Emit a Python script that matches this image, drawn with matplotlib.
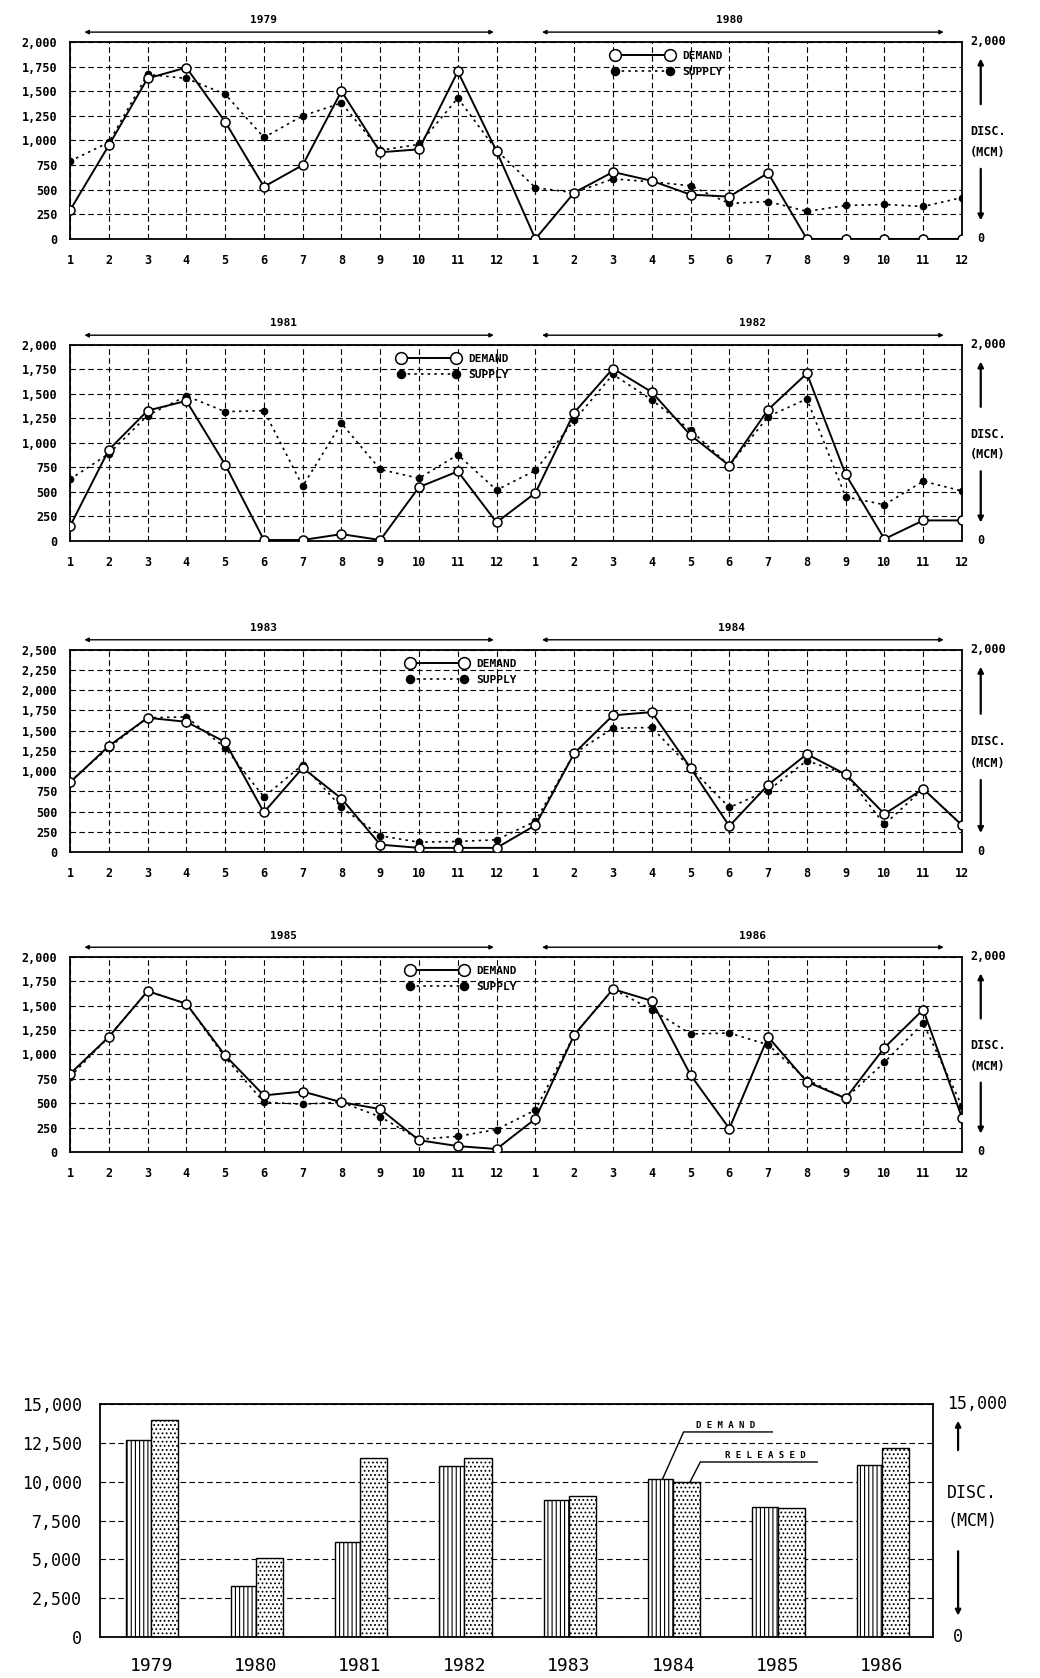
import matplotlib
matplotlib.use("Agg")
import numpy as np
import matplotlib.pyplot as plt

# ---- data (MCM) ----
MONTH_LABELS = ["1", "2", "3", "4", "5", "6", "7", "8", "9", "10", "11", "12"]

years_a = ["1979", "1981", "1983", "1985"]
years_b = ["1980", "1982", "1984", "1986"]

demand_79_80 = [290, 950, 1630, 1740, 1190, 530, 750, 1500, 880, 910, 1700, 890,
                0, 470, 680, 590, 450, 430, 670, 0, 0, 0, 0, 0]
supply_79_80 = [790, 980, 1670, 1630, 1470, 1030, 1250, 1380, 900, 960, 1430, 900,
                520, 470, 610, 580, 540, 360, 380, 280, 340, 350, 330, 420]

demand_81_82 = [150, 930, 1330, 1430, 780, 10, 10, 70, 10, 550, 710, 190,
                490, 1310, 1760, 1520, 1080, 770, 1340, 1710, 680, 20, 210, 210]
supply_81_82 = [630, 890, 1280, 1480, 1320, 1330, 560, 1200, 730, 640, 880, 520,
                720, 1230, 1700, 1440, 1130, 770, 1270, 1450, 450, 370, 610, 510]

demand_83_84 = [860, 1310, 1660, 1610, 1360, 490, 1040, 660, 90, 50, 50, 50,
                330, 1220, 1690, 1730, 1040, 320, 830, 1210, 960, 470, 780, 330]
supply_83_84 = [870, 1290, 1660, 1670, 1290, 680, 1080, 550, 200, 120, 130, 150,
                380, 1220, 1530, 1540, 1040, 550, 760, 1130, 960, 340, 780, 330]

demand_85_86 = [800, 1180, 1650, 1520, 990, 580, 620, 510, 440, 120, 60, 30,
                340, 1200, 1670, 1550, 790, 240, 1180, 720, 550, 1070, 1460, 350]
supply_85_86 = [770, 1180, 1650, 1520, 970, 510, 490, 510, 360, 130, 160, 230,
                430, 1200, 1670, 1460, 1210, 1220, 1100, 740, 550, 920, 1320, 470]

ymax_panels = [2000, 2000, 2500, 2000]

bar_years = ["1979", "1980", "1981", "1982", "1983", "1984", "1985", "1986"]
annual_demand = [12700, 3300, 6100, 11000, 8800, 10200, 8400, 11100]
annual_released = [14000, 5100, 11500, 11500, 9100, 9950, 8300, 12150]

MONO = "DejaVu Sans Mono"
plt.rcParams["hatch.linewidth"] = 0.8

fig = plt.figure(figsize=(10.4, 16.78), dpi=100)
fig.patch.set_facecolor("white")

panel_rects = [
    [0.0673, 0.8576, 0.8577, 0.1174],
    [0.0673, 0.6776, 0.8577, 0.1168],
    [0.0673, 0.4923, 0.8577, 0.1204],
    [0.0673, 0.3135, 0.8577, 0.1162],
]
year_label_x = [(6.0, 18.0), (6.5, 18.6), (6.0, 18.05), (6.5, 18.6)]
legend_x = [0.60, 0.36, 0.37, 0.37]

series = [
    (demand_79_80, supply_79_80),
    (demand_81_82, supply_81_82),
    (demand_83_84, supply_83_84),
    (demand_85_86, supply_85_86),
]

x = np.arange(1, 25)


def side_labels(ax, top_txt, arrow_x, txt_x, up, down, disc_y, mcm_y, fs, weight):
    ax.text(txt_x, 1.0, top_txt, transform=ax.transAxes, ha="left", va="center",
            fontsize=fs, family=MONO, fontweight=weight)
    ax.text(arrow_x, 0.0, "0", transform=ax.transAxes, ha="center", va="center",
            fontsize=fs, family=MONO, fontweight=weight)
    ax.text(txt_x, disc_y, "DISC.", transform=ax.transAxes, ha="left", va="center",
            fontsize=fs, family=MONO, fontweight=weight)
    ax.text(txt_x, mcm_y, "(MCM)", transform=ax.transAxes, ha="left", va="center",
            fontsize=fs, family=MONO, fontweight=weight)
    ax.annotate("", xy=(arrow_x, up[1]), xytext=(arrow_x, up[0]),
                xycoords="axes fraction",
                arrowprops=dict(arrowstyle="-|>", lw=1.6, color="black",
                                mutation_scale=8))
    ax.annotate("", xy=(arrow_x, down[1]), xytext=(arrow_x, down[0]),
                xycoords="axes fraction",
                arrowprops=dict(arrowstyle="-|>", lw=1.6, color="black",
                                mutation_scale=8))


for i in range(4):
    ax = fig.add_axes(panel_rects[i])
    dem, sup = series[i]
    ymax = ymax_panels[i]

    ax.plot(x, sup, color="black", lw=1.2, ls=(0, (1.5, 2.5)), marker="o",
            ms=4.5, mfc="black", mec="black", label="SUPPLY", zorder=3)
    ax.plot(x, dem, color="black", lw=1.4, marker="o", ms=6.5, mfc="white",
            mec="black", mew=1.1, label="DEMAND", zorder=4)

    ax.set_xlim(1, 24)
    ax.set_ylim(0, ymax)
    ax.set_xticks(x)
    ax.set_xticklabels(MONTH_LABELS + MONTH_LABELS)
    yt = np.arange(0, ymax + 1, 250)
    ax.set_yticks(yt)
    ax.set_yticklabels([f"{v:,}" for v in yt])
    ax.tick_params(length=0, labelsize=8.5, pad=11)
    ax.tick_params(axis="y", pad=9)
    for lab in ax.get_xticklabels() + ax.get_yticklabels():
        lab.set_family(MONO)
        lab.set_fontweight("bold")
    ax.grid(True, color="black", lw=0.8, ls=(0, (5, 3)))
    for s in ax.spines.values():
        s.set_linewidth(1.3)

    # year span arrows
    trans = ax.get_xaxis_transform()
    ax.annotate("", xy=(1.3, 1.05), xytext=(12.0, 1.05), xycoords=trans,
                textcoords=trans,
                arrowprops=dict(arrowstyle="<|-|>", lw=1.0, color="black",
                                mutation_scale=6))
    ax.annotate("", xy=(13.1, 1.05), xytext=(23.6, 1.05), xycoords=trans,
                textcoords=trans,
                arrowprops=dict(arrowstyle="<|-|>", lw=1.0, color="black",
                                mutation_scale=6))
    ax.text(year_label_x[i][0], 1.11, years_a[i], transform=trans, ha="center",
            va="center", fontsize=8, family=MONO, fontweight="bold")
    ax.text(year_label_x[i][1], 1.11, years_b[i], transform=trans, ha="center",
            va="center", fontsize=8, family=MONO, fontweight="bold")

    h, l = ax.get_legend_handles_labels()
    ax.legend(h[::-1], l[::-1], loc="upper left", bbox_to_anchor=(legend_x[i], 0.99),
              frameon=False, numpoints=2, handlelength=5.5, handletextpad=0.8,
              labelspacing=0.55, markerscale=1.3, borderaxespad=0.2,
              prop=dict(family=MONO, weight="bold", size=8))

    side_labels(ax, "2,000", 1.021, 1.009, (0.67, 0.93), (0.37, 0.08),
                0.545, 0.44, 8.5, "bold")

# ---- annual totals bar chart ----
axb = fig.add_axes([0.0962, 0.0244, 0.801, 0.1389])
pos = np.arange(len(bar_years))
axb.bar(pos, annual_demand, width=-0.24, align="edge", facecolor="white",
        edgecolor="black", hatch="||||", lw=1.0, zorder=2)
axb.bar(pos, annual_released, width=0.26, align="edge", facecolor="white",
        edgecolor="black", hatch="....", lw=1.0, zorder=2)
axb.set_xlim(-0.49, 7.49)
axb.set_ylim(0, 15000)
axb.set_xticks(pos)
axb.set_xticklabels(bar_years)
yb = np.arange(0, 15001, 2500)
axb.set_yticks(yb)
axb.set_yticklabels([f"{v:,}" for v in yb])
axb.tick_params(axis="x", length=0, labelsize=13, pad=14)
axb.tick_params(axis="y", length=0, labelsize=12, pad=13)
for lab in axb.get_xticklabels() + axb.get_yticklabels():
    lab.set_family(MONO)
axb.yaxis.grid(True, color="black", lw=0.8, ls=(0, (5, 3)))
axb.set_axisbelow(True)
for s in axb.spines.values():
    s.set_linewidth(1.3)

# callouts on the 1984 bars
k = bar_years.index("1984")
axb.plot([k - 0.10, k + 0.10, k + 0.95], [annual_demand[k], 13200, 13200],
         color="black", lw=1.0)
axb.text(k + 0.50, 13350, "D E M A N D", ha="center", va="bottom",
         fontsize=6.5, family=MONO, fontweight="bold")
axb.plot([k + 0.16, k + 0.26, k + 1.38], [annual_released[k], 11266, 11266],
         color="black", lw=1.0)
axb.text(k + 0.88, 11420, "R E L E A S E D", ha="center", va="bottom",
         fontsize=6.5, family=MONO, fontweight="bold")

side_labels(axb, "15,000", 1.03, 1.017, (0.79, 0.94), (0.38, 0.08),
            0.62, 0.50, 12, "normal")

fig.savefig("out.png", dpi=100, facecolor="white")
